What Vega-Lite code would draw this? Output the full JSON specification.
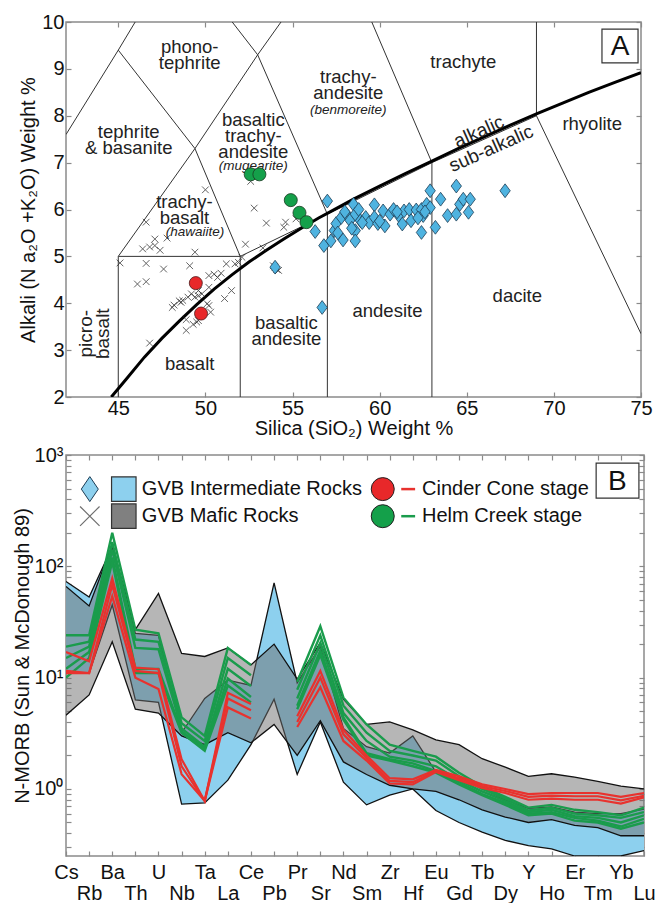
{
  "$schema": "https://vega.github.io/schema/vega-lite/v6.json",
  "background": "white",
  "padding": {"left": 12, "top": 11, "right": 5, "bottom": 0},
  "spacing": 5,
  "config": {
    "font": "Liberation Sans",
    "view": {"stroke": "#8a8a8a", "strokeWidth": 1.5},
    "axis": {"domain": false, "grid": false, "tickColor": "#8a8a8a", "tickSize": -5, "tickWidth": 1.2, "labelFontSize": 20, "labelColor": "#111", "titleFontSize": 20, "titleFontWeight": "normal", "titleColor": "#111", "labelFont": "Liberation Sans", "titleFont": "Liberation Sans", "labelFlush": false, "labelOverlap": false},
    "text": {"font": "Liberation Sans"}
  },
  "datasets": {
    "tas": [
      {"seg": "s1", "ord": 1, "x": 45, "y": 2}, {"seg": "s1", "ord": 2, "x": 45, "y": 5},
      {"seg": "s2", "ord": 1, "x": 45, "y": 5}, {"seg": "s2", "ord": 2, "x": 52, "y": 5},
      {"seg": "s3", "ord": 1, "x": 52, "y": 2}, {"seg": "s3", "ord": 2, "x": 52, "y": 5},
      {"seg": "s4", "ord": 1, "x": 52, "y": 5}, {"seg": "s4", "ord": 2, "x": 57, "y": 5.9}, {"seg": "s4", "ord": 3, "x": 63, "y": 7}, {"seg": "s4", "ord": 4, "x": 69, "y": 8},
      {"seg": "s5", "ord": 1, "x": 57, "y": 2}, {"seg": "s5", "ord": 2, "x": 57, "y": 5.9},
      {"seg": "s6", "ord": 1, "x": 63, "y": 2}, {"seg": "s6", "ord": 2, "x": 63, "y": 7},
      {"seg": "s7", "ord": 1, "x": 69, "y": 8}, {"seg": "s7", "ord": 2, "x": 69, "y": 10},
      {"seg": "s8", "ord": 1, "x": 69, "y": 8}, {"seg": "s8", "ord": 2, "x": 75, "y": 3.35},
      {"seg": "s9", "ord": 1, "x": 45, "y": 5}, {"seg": "s9", "ord": 2, "x": 49.4, "y": 7.3}, {"seg": "s9", "ord": 3, "x": 52, "y": 5},
      {"seg": "s10", "ord": 1, "x": 42, "y": 7.6}, {"seg": "s10", "ord": 2, "x": 45, "y": 9.4}, {"seg": "s10", "ord": 3, "x": 45.97, "y": 10},
      {"seg": "s11", "ord": 1, "x": 45, "y": 9.4}, {"seg": "s11", "ord": 2, "x": 49.4, "y": 7.3},
      {"seg": "s12", "ord": 1, "x": 49.4, "y": 7.3}, {"seg": "s12", "ord": 2, "x": 53, "y": 9.3}, {"seg": "s12", "ord": 3, "x": 54.34, "y": 10},
      {"seg": "s13", "ord": 1, "x": 51.54, "y": 10}, {"seg": "s13", "ord": 2, "x": 53, "y": 9.3}, {"seg": "s13", "ord": 3, "x": 57, "y": 5.9},
      {"seg": "s14", "ord": 1, "x": 59.55, "y": 10}, {"seg": "s14", "ord": 2, "x": 63, "y": 7}
    ],
    "curve": [
      {"x": 44.6, "y": 2}, {"x": 45.5, "y": 2.4}, {"x": 46.5, "y": 2.85}, {"x": 47.5, "y": 3.25}, {"x": 48.5, "y": 3.62}, {"x": 49.5, "y": 3.97}, {"x": 50.5, "y": 4.3}, {"x": 51.5, "y": 4.6}, {"x": 52.5, "y": 4.88}, {"x": 53.5, "y": 5.13}, {"x": 54.5, "y": 5.37}, {"x": 55.5, "y": 5.6}, {"x": 56.5, "y": 5.82}, {"x": 57.5, "y": 6.02}, {"x": 58.5, "y": 6.22}, {"x": 60, "y": 6.5}, {"x": 61.5, "y": 6.77}, {"x": 63, "y": 7.03}, {"x": 64.5, "y": 7.3}, {"x": 66, "y": 7.55}, {"x": 67.5, "y": 7.8}, {"x": 69, "y": 8.04}, {"x": 70.5, "y": 8.27}, {"x": 72, "y": 8.5}, {"x": 73.5, "y": 8.71}, {"x": 75, "y": 8.92}
    ],
    "labels": [
      {"x": 49.1, "y": 9.47, "t": "phono-\ntephrite"},
      {"x": 45.6, "y": 7.66, "t": "tephrite\n& basanite"},
      {"x": 58.2, "y": 8.82, "t": "trachy-\nandesite"},
      {"x": 64.8, "y": 9.15, "t": "trachyte"},
      {"x": 52.75, "y": 7.92, "t": "basaltic\ntrachy-\nandesite"},
      {"x": 48.8, "y": 6.17, "t": "trachy-\nbasalt"},
      {"x": 72.2, "y": 7.83, "t": "rhyolite"},
      {"x": 67.9, "y": 4.16, "t": "dacite"},
      {"x": 60.45, "y": 3.84, "t": "andesite"},
      {"x": 54.65, "y": 3.58, "t": "basaltic\nandesite"},
      {"x": 49.1, "y": 2.71, "t": "basalt"}
    ],
    "italic": [
      {"x": 58.2, "y": 8.12, "t": "(benmoreite)"},
      {"x": 52.75, "y": 6.93, "t": "(mugearite)"},
      {"x": 49.4, "y": 5.53, "t": "(hawaiite)"}
    ],
    "mafic_pts": [
      {"x": 45.1, "y": 4.86}, {"x": 46.6, "y": 5.73}, {"x": 46.4, "y": 5.16}, {"x": 46.8, "y": 5.2}, {"x": 47.1, "y": 5.37}, {"x": 47.1, "y": 5.23}, {"x": 47.4, "y": 5.13}, {"x": 47.8, "y": 5.39}, {"x": 46.6, "y": 4.85}, {"x": 47.6, "y": 4.73}, {"x": 46.1, "y": 4.41}, {"x": 46.6, "y": 4.46}, {"x": 46.8, "y": 3.15}, {"x": 50.0, "y": 6.42}, {"x": 49.4, "y": 5.09}, {"x": 49.1, "y": 4.8}, {"x": 48.2, "y": 3.96}, {"x": 48.1, "y": 3.91}, {"x": 48.7, "y": 4.06}, {"x": 48.6, "y": 4.02}, {"x": 49.0, "y": 4.13}, {"x": 49.2, "y": 4.2}, {"x": 49.6, "y": 4.27}, {"x": 49.8, "y": 4.2}, {"x": 49.4, "y": 4.13}, {"x": 49.6, "y": 4.16}, {"x": 50.2, "y": 4.34}, {"x": 50.5, "y": 4.62}, {"x": 50.9, "y": 4.64}, {"x": 50.7, "y": 4.55}, {"x": 50.2, "y": 4.59}, {"x": 51.2, "y": 4.84}, {"x": 51.5, "y": 4.27}, {"x": 51.1, "y": 4.1}, {"x": 50.1, "y": 3.99}, {"x": 50.3, "y": 3.81}, {"x": 50.2, "y": 3.95}, {"x": 48.9, "y": 3.65}, {"x": 48.9, "y": 3.42}, {"x": 49.5, "y": 3.6}, {"x": 49.6, "y": 3.63}, {"x": 51.7, "y": 4.84}, {"x": 51.9, "y": 4.87}, {"x": 52.1, "y": 4.98}, {"x": 52.3, "y": 5.26}, {"x": 52.8, "y": 6.03}, {"x": 52.6, "y": 6.6}, {"x": 53.5, "y": 5.71}, {"x": 54.6, "y": 5.73}, {"x": 54.5, "y": 5.62}, {"x": 55.2, "y": 5.8}, {"x": 53.3, "y": 5.18}, {"x": 54.0, "y": 4.77}, {"x": 54.1, "y": 4.72}, {"x": 53.9, "y": 4.8}, {"x": 54.2, "y": 4.7}, {"x": 49.3, "y": 3.55}, {"x": 48.5, "y": 4.05}
    ],
    "inter_pts": [
      {"x": 56.3, "y": 5.53}, {"x": 57.0, "y": 6.18}, {"x": 56.8, "y": 5.23}, {"x": 57.2, "y": 5.33}, {"x": 57.4, "y": 5.55}, {"x": 57.5, "y": 5.7}, {"x": 57.8, "y": 5.83}, {"x": 57.9, "y": 5.35}, {"x": 58.1, "y": 5.9}, {"x": 58.3, "y": 5.77}, {"x": 58.5, "y": 6.11}, {"x": 58.6, "y": 5.9}, {"x": 58.6, "y": 5.55}, {"x": 58.6, "y": 5.33}, {"x": 58.8, "y": 6.0}, {"x": 58.9, "y": 5.76}, {"x": 59.2, "y": 5.83}, {"x": 59.4, "y": 5.72}, {"x": 59.7, "y": 6.1}, {"x": 59.7, "y": 5.83}, {"x": 59.9, "y": 5.7}, {"x": 60.2, "y": 5.97}, {"x": 60.3, "y": 5.65}, {"x": 60.6, "y": 5.9}, {"x": 60.8, "y": 6.0}, {"x": 61.1, "y": 5.87}, {"x": 61.3, "y": 5.69}, {"x": 61.4, "y": 5.97}, {"x": 61.7, "y": 6.0}, {"x": 61.8, "y": 5.76}, {"x": 62.1, "y": 5.99}, {"x": 62.4, "y": 6.0}, {"x": 62.4, "y": 5.51}, {"x": 62.5, "y": 5.87}, {"x": 62.7, "y": 6.11}, {"x": 62.9, "y": 6.4}, {"x": 62.9, "y": 6.04}, {"x": 63.2, "y": 5.62}, {"x": 63.5, "y": 6.22}, {"x": 63.9, "y": 5.87}, {"x": 64.4, "y": 5.9}, {"x": 64.4, "y": 6.5}, {"x": 64.6, "y": 6.11}, {"x": 64.8, "y": 6.22}, {"x": 65.1, "y": 5.94}, {"x": 65.2, "y": 6.22}, {"x": 67.2, "y": 6.4}, {"x": 56.7, "y": 3.91}, {"x": 54.0, "y": 4.77}, {"x": 57.6, "y": 5.5}, {"x": 58.0, "y": 5.95}, {"x": 60.0, "y": 5.75}, {"x": 61.0, "y": 5.95}, {"x": 58.4, "y": 5.6}, {"x": 59.0, "y": 5.72}, {"x": 62.2, "y": 5.82}, {"x": 62.6, "y": 5.95}
    ],
    "green_pts": [{"x": 52.6, "y": 6.75}, {"x": 53.1, "y": 6.75}, {"x": 54.9, "y": 6.2}, {"x": 55.4, "y": 5.93}, {"x": 55.8, "y": 5.73}],
    "red_pts": [{"x": 49.45, "y": 4.43}, {"x": 49.75, "y": 3.78}],
    "inter": [
      {"idx": 0, "lo": 11, "hi": 73}, {"idx": 1, "lo": 11, "hi": 53}, {"idx": 2, "lo": 45, "hi": 150}, {"idx": 3, "lo": 6.3, "hi": 25}, {"idx": 4, "lo": 6.0, "hi": 24}, {"idx": 5, "lo": 0.73, "hi": 3.2}, {"idx": 6, "lo": 0.75, "hi": 6.5}, {"idx": 7, "lo": 1.2, "hi": 9.5}, {"idx": 8, "lo": 2.5, "hi": 8.5}, {"idx": 9, "lo": 6.4, "hi": 71}, {"idx": 10, "lo": 1.35, "hi": 9.0}, {"idx": 11, "lo": 4.0, "hi": 19}, {"idx": 12, "lo": 1.15, "hi": 3.5}, {"idx": 13, "lo": 0.72, "hi": 2.4}, {"idx": 14, "lo": 0.88, "hi": 2.1}, {"idx": 15, "lo": 1.0, "hi": 3.0}, {"idx": 16, "lo": 0.64, "hi": 1.42}, {"idx": 17, "lo": 0.5, "hi": 1.2}, {"idx": 18, "lo": 0.41, "hi": 0.95}, {"idx": 19, "lo": 0.345, "hi": 0.8}, {"idx": 20, "lo": 0.31, "hi": 0.67}, {"idx": 21, "lo": 0.29, "hi": 0.69}, {"idx": 22, "lo": 0.25, "hi": 0.62}, {"idx": 23, "lo": 0.25, "hi": 0.6}, {"idx": 24, "lo": 0.25, "hi": 0.6}, {"idx": 25, "lo": 0.28, "hi": 0.66}
    ],
    "mafic": [
      {"idx": 0, "lo": 4.6, "hi": 66}, {"idx": 1, "lo": 7.0, "hi": 44}, {"idx": 2, "lo": 21, "hi": 155}, {"idx": 3, "lo": 5.2, "hi": 27}, {"idx": 4, "lo": 4.8, "hi": 57}, {"idx": 5, "lo": 3.0, "hi": 16.5}, {"idx": 6, "lo": 2.5, "hi": 15.5}, {"idx": 7, "lo": 3.2, "hi": 18.5}, {"idx": 8, "lo": 2.6, "hi": 13}, {"idx": 9, "lo": 3.8, "hi": 20}, {"idx": 10, "lo": 2.0, "hi": 9.7}, {"idx": 11, "lo": 4.1, "hi": 20.6}, {"idx": 12, "lo": 1.75, "hi": 6.4}, {"idx": 13, "lo": 1.35, "hi": 3.8}, {"idx": 14, "lo": 1.08, "hi": 4.0}, {"idx": 15, "lo": 1.0, "hi": 3.4}, {"idx": 16, "lo": 0.95, "hi": 2.76}, {"idx": 17, "lo": 0.8, "hi": 2.5}, {"idx": 18, "lo": 0.65, "hi": 1.87}, {"idx": 19, "lo": 0.56, "hi": 1.57}, {"idx": 20, "lo": 0.5, "hi": 1.3}, {"idx": 21, "lo": 0.53, "hi": 1.37}, {"idx": 22, "lo": 0.47, "hi": 1.28}, {"idx": 23, "lo": 0.45, "hi": 1.17}, {"idx": 24, "lo": 0.38, "hi": 1.06}, {"idx": 25, "lo": 0.38, "hi": 1.0}
    ],
    "red": [
      {"s": "R1a", "idx": 0, "v": 17}, {"s": "R1a", "idx": 1, "v": 14}, {"s": "R1a", "idx": 2, "v": 78}, {"s": "R1a", "idx": 3, "v": 12.3}, {"s": "R1a", "idx": 4, "v": 11.9}, {"s": "R1a", "idx": 5, "v": 1.85}, {"s": "R1a", "idx": 6, "v": 0.78}, {"s": "R1a", "idx": 7, "v": 7.3}, {"s": "R1a", "idx": 8, "v": 5.8},
      {"s": "R1b", "idx": 10, "v": 4.5}, {"s": "R1b", "idx": 11, "v": 11.5}, {"s": "R1b", "idx": 12, "v": 3.4}, {"s": "R1b", "idx": 13, "v": 2.0}, {"s": "R1b", "idx": 14, "v": 1.25}, {"s": "R1b", "idx": 15, "v": 1.22}, {"s": "R1b", "idx": 16, "v": 1.48}, {"s": "R1b", "idx": 17, "v": 1.3}, {"s": "R1b", "idx": 18, "v": 1.1}, {"s": "R1b", "idx": 19, "v": 1.0}, {"s": "R1b", "idx": 20, "v": 0.9}, {"s": "R1b", "idx": 21, "v": 0.92}, {"s": "R1b", "idx": 22, "v": 0.92}, {"s": "R1b", "idx": 23, "v": 0.92}, {"s": "R1b", "idx": 24, "v": 0.85}, {"s": "R1b", "idx": 25, "v": 0.92},
      {"s": "R2a", "idx": 0, "v": 11.5}, {"s": "R2a", "idx": 1, "v": 11}, {"s": "R2a", "idx": 2, "v": 68}, {"s": "R2a", "idx": 3, "v": 11.5}, {"s": "R2a", "idx": 4, "v": 11}, {"s": "R2a", "idx": 5, "v": 1.6}, {"s": "R2a", "idx": 6, "v": 0.78}, {"s": "R2a", "idx": 7, "v": 6.5}, {"s": "R2a", "idx": 8, "v": 5.1},
      {"s": "R2b", "idx": 10, "v": 4.0}, {"s": "R2b", "idx": 11, "v": 10}, {"s": "R2b", "idx": 12, "v": 3.1}, {"s": "R2b", "idx": 13, "v": 1.9}, {"s": "R2b", "idx": 14, "v": 1.18}, {"s": "R2b", "idx": 15, "v": 1.15}, {"s": "R2b", "idx": 16, "v": 1.45}, {"s": "R2b", "idx": 17, "v": 1.25}, {"s": "R2b", "idx": 18, "v": 1.06}, {"s": "R2b", "idx": 19, "v": 0.96}, {"s": "R2b", "idx": 20, "v": 0.85}, {"s": "R2b", "idx": 21, "v": 0.87}, {"s": "R2b", "idx": 22, "v": 0.86}, {"s": "R2b", "idx": 23, "v": 0.86}, {"s": "R2b", "idx": 24, "v": 0.79}, {"s": "R2b", "idx": 25, "v": 0.87},
      {"s": "R3a", "idx": 0, "v": 11}, {"s": "R3a", "idx": 1, "v": 11}, {"s": "R3a", "idx": 2, "v": 54}, {"s": "R3a", "idx": 3, "v": 10}, {"s": "R3a", "idx": 4, "v": 7.9}, {"s": "R3a", "idx": 5, "v": 1.36}, {"s": "R3a", "idx": 6, "v": 0.78}, {"s": "R3a", "idx": 7, "v": 5.4}, {"s": "R3a", "idx": 8, "v": 4.3},
      {"s": "R3b", "idx": 10, "v": 3.6}, {"s": "R3b", "idx": 11, "v": 8.2}, {"s": "R3b", "idx": 12, "v": 2.7}, {"s": "R3b", "idx": 13, "v": 1.8}, {"s": "R3b", "idx": 14, "v": 1.12}, {"s": "R3b", "idx": 15, "v": 1.1}, {"s": "R3b", "idx": 16, "v": 1.42}, {"s": "R3b", "idx": 17, "v": 1.2}, {"s": "R3b", "idx": 18, "v": 1.02}, {"s": "R3b", "idx": 19, "v": 0.92}, {"s": "R3b", "idx": 20, "v": 0.8}, {"s": "R3b", "idx": 21, "v": 0.82}, {"s": "R3b", "idx": 22, "v": 0.8}, {"s": "R3b", "idx": 23, "v": 0.8}, {"s": "R3b", "idx": 24, "v": 0.74}, {"s": "R3b", "idx": 25, "v": 0.84}
    ],
    "green": [
      {"s": "G1a", "idx": 0, "v": 24}, {"s": "G1a", "idx": 1, "v": 24}, {"s": "G1a", "idx": 2, "v": 200}, {"s": "G1a", "idx": 3, "v": 27}, {"s": "G1a", "idx": 4, "v": 25}, {"s": "G1a", "idx": 5, "v": 4.4}, {"s": "G1a", "idx": 6, "v": 3.0}, {"s": "G1a", "idx": 7, "v": 18.5}, {"s": "G1a", "idx": 8, "v": 13},
      {"s": "G1b", "idx": 10, "v": 9.2}, {"s": "G1b", "idx": 11, "v": 29}, {"s": "G1b", "idx": 12, "v": 6.6}, {"s": "G1b", "idx": 13, "v": 3.8}, {"s": "G1b", "idx": 14, "v": 2.5}, {"s": "G1b", "idx": 15, "v": 2.2}, {"s": "G1b", "idx": 16, "v": 1.95}, {"s": "G1b", "idx": 17, "v": 1.4}, {"s": "G1b", "idx": 18, "v": 1.05}, {"s": "G1b", "idx": 19, "v": 0.85}, {"s": "G1b", "idx": 20, "v": 0.68}, {"s": "G1b", "idx": 21, "v": 0.72}, {"s": "G1b", "idx": 22, "v": 0.65}, {"s": "G1b", "idx": 23, "v": 0.62}, {"s": "G1b", "idx": 24, "v": 0.58}, {"s": "G1b", "idx": 25, "v": 0.68},
      {"s": "G2a", "idx": 0, "v": 19}, {"s": "G2a", "idx": 1, "v": 21}, {"s": "G2a", "idx": 2, "v": 165}, {"s": "G2a", "idx": 3, "v": 22}, {"s": "G2a", "idx": 4, "v": 21}, {"s": "G2a", "idx": 5, "v": 3.9}, {"s": "G2a", "idx": 6, "v": 2.7}, {"s": "G2a", "idx": 7, "v": 15}, {"s": "G2a", "idx": 8, "v": 10.5},
      {"s": "G2b", "idx": 10, "v": 7.8}, {"s": "G2b", "idx": 11, "v": 24}, {"s": "G2b", "idx": 12, "v": 5.6}, {"s": "G2b", "idx": 13, "v": 3.2}, {"s": "G2b", "idx": 14, "v": 2.2}, {"s": "G2b", "idx": 15, "v": 2.0}, {"s": "G2b", "idx": 16, "v": 1.8}, {"s": "G2b", "idx": 17, "v": 1.3}, {"s": "G2b", "idx": 18, "v": 1.0}, {"s": "G2b", "idx": 19, "v": 0.82}, {"s": "G2b", "idx": 20, "v": 0.64}, {"s": "G2b", "idx": 21, "v": 0.68}, {"s": "G2b", "idx": 22, "v": 0.6}, {"s": "G2b", "idx": 23, "v": 0.58}, {"s": "G2b", "idx": 24, "v": 0.55}, {"s": "G2b", "idx": 25, "v": 0.62},
      {"s": "G3a", "idx": 0, "v": 15}, {"s": "G3a", "idx": 1, "v": 19}, {"s": "G3a", "idx": 2, "v": 140}, {"s": "G3a", "idx": 3, "v": 18.5}, {"s": "G3a", "idx": 4, "v": 18}, {"s": "G3a", "idx": 5, "v": 3.5}, {"s": "G3a", "idx": 6, "v": 2.4}, {"s": "G3a", "idx": 7, "v": 12}, {"s": "G3a", "idx": 8, "v": 8.4},
      {"s": "G3b", "idx": 10, "v": 6.5}, {"s": "G3b", "idx": 11, "v": 20.5}, {"s": "G3b", "idx": 12, "v": 4.8}, {"s": "G3b", "idx": 13, "v": 2.7}, {"s": "G3b", "idx": 14, "v": 1.95}, {"s": "G3b", "idx": 15, "v": 1.8}, {"s": "G3b", "idx": 16, "v": 1.6}, {"s": "G3b", "idx": 17, "v": 1.2}, {"s": "G3b", "idx": 18, "v": 0.95}, {"s": "G3b", "idx": 19, "v": 0.78}, {"s": "G3b", "idx": 20, "v": 0.62}, {"s": "G3b", "idx": 21, "v": 0.65}, {"s": "G3b", "idx": 22, "v": 0.57}, {"s": "G3b", "idx": 23, "v": 0.55}, {"s": "G3b", "idx": 24, "v": 0.5}, {"s": "G3b", "idx": 25, "v": 0.58},
      {"s": "G4a", "idx": 0, "v": 12}, {"s": "G4a", "idx": 1, "v": 17}, {"s": "G4a", "idx": 2, "v": 120}, {"s": "G4a", "idx": 3, "v": 12}, {"s": "G4a", "idx": 4, "v": 12}, {"s": "G4a", "idx": 5, "v": 3.3}, {"s": "G4a", "idx": 6, "v": 2.3}, {"s": "G4a", "idx": 7, "v": 9.8}, {"s": "G4a", "idx": 8, "v": 6.7},
      {"s": "G4b", "idx": 10, "v": 5.6}, {"s": "G4b", "idx": 11, "v": 17.5}, {"s": "G4b", "idx": 12, "v": 4.4}, {"s": "G4b", "idx": 13, "v": 2.1}, {"s": "G4b", "idx": 14, "v": 1.85}, {"s": "G4b", "idx": 15, "v": 1.7}, {"s": "G4b", "idx": 16, "v": 1.45}, {"s": "G4b", "idx": 17, "v": 1.15}, {"s": "G4b", "idx": 18, "v": 0.9}, {"s": "G4b", "idx": 19, "v": 0.75}, {"s": "G4b", "idx": 20, "v": 0.6}, {"s": "G4b", "idx": 21, "v": 0.62}, {"s": "G4b", "idx": 22, "v": 0.55}, {"s": "G4b", "idx": 23, "v": 0.52}, {"s": "G4b", "idx": 24, "v": 0.46}, {"s": "G4b", "idx": 25, "v": 0.54},
      {"s": "G5a", "idx": 0, "v": 10}, {"s": "G5a", "idx": 1, "v": 15}, {"s": "G5a", "idx": 2, "v": 110}, {"s": "G5a", "idx": 3, "v": 11}, {"s": "G5a", "idx": 4, "v": 11}, {"s": "G5a", "idx": 5, "v": 3.2}, {"s": "G5a", "idx": 6, "v": 2.2}, {"s": "G5a", "idx": 7, "v": 8.5}, {"s": "G5a", "idx": 8, "v": 6.0},
      {"s": "G5b", "idx": 10, "v": 5.2}, {"s": "G5b", "idx": 11, "v": 16}, {"s": "G5b", "idx": 12, "v": 4.2}, {"s": "G5b", "idx": 13, "v": 2.0}, {"s": "G5b", "idx": 14, "v": 1.8}, {"s": "G5b", "idx": 15, "v": 1.6}, {"s": "G5b", "idx": 16, "v": 1.4}, {"s": "G5b", "idx": 17, "v": 1.1}, {"s": "G5b", "idx": 18, "v": 0.88}, {"s": "G5b", "idx": 19, "v": 0.72}, {"s": "G5b", "idx": 20, "v": 0.58}, {"s": "G5b", "idx": 21, "v": 0.6}, {"s": "G5b", "idx": 22, "v": 0.52}, {"s": "G5b", "idx": 23, "v": 0.5}, {"s": "G5b", "idx": 24, "v": 0.44}, {"s": "G5b", "idx": 25, "v": 0.5}
    ]
  },
  "vconcat": [
    {
      "width": 575,
      "height": 375,
      "layer": [
        {
          "data": {"name": "tas"},
          "mark": {"type": "line", "color": "#333", "strokeWidth": 1, "clip": true},
          "encoding": {
            "x": {"field": "x", "type": "quantitative", "scale": {"domain": [42, 75], "nice": false, "zero": false}, "axis": {"values": [45, 50, 55, 60, 65, 70, 75], "title": "Silica (SiO₂) Weight %", "labelPadding": 6, "titlePadding": 0}},
            "y": {"field": "y", "type": "quantitative", "scale": {"domain": [2, 10], "nice": false, "zero": false}, "axis": {"values": [2, 3, 4, 5, 6, 7, 8, 9, 10], "title": "Alkali (N a₂O +K₂O) Weight %", "labelPadding": 7, "titlePadding": 3}},
            "detail": {"field": "seg"},
            "order": {"field": "ord"}
          }
        },
        {
          "data": {"name": "curve"},
          "mark": {"type": "line", "color": "#000", "strokeWidth": 3, "clip": true},
          "encoding": {
            "x": {"field": "x", "type": "quantitative", "scale": {"domain": [42, 75], "nice": false, "zero": false}, "axis": null},
            "y": {"field": "y", "type": "quantitative", "scale": {"domain": [2, 10], "nice": false, "zero": false}, "axis": null}
          }
        },
        {
          "data": {"name": "labels"},
          "mark": {"type": "text", "fontSize": 18.5, "lineBreak": "\n", "lineHeight": 16, "color": "#222", "align": "center", "baseline": "middle"},
          "encoding": {
            "x": {"field": "x", "type": "quantitative", "scale": {"domain": [42, 75], "nice": false, "zero": false}, "axis": null},
            "y": {"field": "y", "type": "quantitative", "scale": {"domain": [2, 10], "nice": false, "zero": false}, "axis": null},
            "text": {"field": "t"}
          }
        },
        {
          "data": {"name": "italic"},
          "mark": {"type": "text", "fontSize": 13.5, "fontStyle": "italic", "color": "#222", "align": "center", "baseline": "middle"},
          "encoding": {
            "x": {"field": "x", "type": "quantitative", "scale": {"domain": [42, 75], "nice": false, "zero": false}, "axis": null},
            "y": {"field": "y", "type": "quantitative", "scale": {"domain": [2, 10], "nice": false, "zero": false}, "axis": null},
            "text": {"field": "t"}
          }
        },
        {
          "data": {"values": [{"x": 65.7, "y": 7.66, "t": "alkalic"}, {"x": 66.4, "y": 7.3, "t": "sub-alkalic"}]},
          "mark": {"type": "text", "fontSize": 19, "angle": -24, "color": "#222", "align": "center", "baseline": "middle"},
          "encoding": {
            "x": {"field": "x", "type": "quantitative", "scale": {"domain": [42, 75], "nice": false, "zero": false}, "axis": null},
            "y": {"field": "y", "type": "quantitative", "scale": {"domain": [2, 10], "nice": false, "zero": false}, "axis": null},
            "text": {"field": "t"}
          }
        },
        {
          "data": {"values": [{"x": 43.15, "y": 3.35, "t": "picro-\nbasalt"}]},
          "mark": {"type": "text", "fontSize": 19, "angle": -90, "lineBreak": "\n", "lineHeight": 17, "color": "#222", "align": "center", "baseline": "middle"},
          "encoding": {
            "x": {"field": "x", "type": "quantitative", "scale": {"domain": [42, 75], "nice": false, "zero": false}, "axis": null},
            "y": {"field": "y", "type": "quantitative", "scale": {"domain": [2, 10], "nice": false, "zero": false}, "axis": null},
            "text": {"field": "t"}
          }
        },
        {
          "data": {"name": "mafic_pts"},
          "mark": {"type": "point", "shape": "M-1,-1L1,1M-1,1L1,-1", "size": 45, "stroke": "#222", "strokeWidth": 1, "filled": false},
          "encoding": {
            "x": {"field": "x", "type": "quantitative", "scale": {"domain": [42, 75], "nice": false, "zero": false}, "axis": null},
            "y": {"field": "y", "type": "quantitative", "scale": {"domain": [2, 10], "nice": false, "zero": false}, "axis": null}
          }
        },
        {
          "data": {"name": "inter_pts"},
          "mark": {"type": "point", "shape": "M0,-1L0.75,0L0,1L-0.75,0Z", "size": 190, "fill": "#4fb3e0", "stroke": "#1d3d55", "strokeWidth": 0.8, "filled": true, "opacity": 1},
          "encoding": {
            "x": {"field": "x", "type": "quantitative", "scale": {"domain": [42, 75], "nice": false, "zero": false}, "axis": null},
            "y": {"field": "y", "type": "quantitative", "scale": {"domain": [2, 10], "nice": false, "zero": false}, "axis": null}
          }
        },
        {
          "data": {"name": "green_pts"},
          "mark": {"type": "circle", "size": 170, "fill": "#14a04a", "stroke": "#1b3a22", "strokeWidth": 0.8, "opacity": 1},
          "encoding": {
            "x": {"field": "x", "type": "quantitative", "scale": {"domain": [42, 75], "nice": false, "zero": false}, "axis": null},
            "y": {"field": "y", "type": "quantitative", "scale": {"domain": [2, 10], "nice": false, "zero": false}, "axis": null}
          }
        },
        {
          "data": {"name": "red_pts"},
          "mark": {"type": "circle", "size": 170, "fill": "#e8282a", "stroke": "#4a1a1a", "strokeWidth": 0.8, "opacity": 1},
          "encoding": {
            "x": {"field": "x", "type": "quantitative", "scale": {"domain": [42, 75], "nice": false, "zero": false}, "axis": null},
            "y": {"field": "y", "type": "quantitative", "scale": {"domain": [2, 10], "nice": false, "zero": false}, "axis": null}
          }
        },
        {
          "data": {"values": [{"x1": 72.76, "x2": 74.83, "y1": 9.13, "y2": 9.85}]},
          "mark": {"type": "rect", "fill": "white", "stroke": "#333", "strokeWidth": 1.2},
          "encoding": {
            "x": {"field": "x1", "type": "quantitative", "scale": {"domain": [42, 75], "nice": false, "zero": false}, "axis": {"orient": "top", "values": [45, 50, 55, 60, 65, 70, 75], "labels": false, "title": null}},
            "x2": {"field": "x2"},
            "y": {"field": "y1", "type": "quantitative", "scale": {"domain": [2, 10], "nice": false, "zero": false}, "axis": {"orient": "right", "values": [2, 3, 4, 5, 6, 7, 8, 9, 10], "labels": false, "title": null}},
            "y2": {"field": "y2"}
          }
        },
        {
          "data": {"values": [{"x": 73.8, "y": 9.49, "t": "A"}]},
          "mark": {"type": "text", "fontSize": 28, "color": "#111", "align": "center", "baseline": "middle", "dy": 1},
          "encoding": {
            "x": {"field": "x", "type": "quantitative", "scale": {"domain": [42, 75], "nice": false, "zero": false}, "axis": null},
            "y": {"field": "y", "type": "quantitative", "scale": {"domain": [2, 10], "nice": false, "zero": false}, "axis": null},
            "text": {"field": "t"}
          }
        }
      ],
      "resolve": {"axis": {"x": "independent", "y": "independent"}}
    },
    {
      "width": 578,
      "height": 401,
      "layer": [
        {
          "data": {"name": "inter"},
          "mark": {"type": "area", "color": "#8dd0ee", "opacity": 1, "clip": true},
          "encoding": {
            "x": {"field": "idx", "type": "quantitative", "scale": {"domain": [0, 25], "nice": false, "zero": false}, "axis": {"values": [0,1,2,3,4,5,6,7,8,9,10,11,12,13,14,15,16,17,18,19,20,21,22,23,24,25], "title": null, "labelPadding": 11, "labelLineHeight": 21, "labelBaseline": "top", "labelExpr": "datum.value % 2 == 1 ? ['', split('Cs Rb Ba Th U Nb Ta La Ce Pb Pr Sr Nd Sm Zr Hf Eu Gd Tb Dy Y Ho Er Tm Yb Lu', ' ')[datum.value]] : split('Cs Rb Ba Th U Nb Ta La Ce Pb Pr Sr Nd Sm Zr Hf Eu Gd Tb Dy Y Ho Er Tm Yb Lu', ' ')[datum.value]"}},
            "y": {"field": "lo", "type": "quantitative", "scale": {"type": "log", "domain": [0.25, 1000], "nice": false}, "axis": {"values": [0.3,0.4,0.5,0.6,0.7,0.8,0.9,1,2,3,4,5,6,7,8,9,10,20,30,40,50,60,70,80,90,100,200,300,400,500,600,700,800,900,1000], "title": "N-MORB (Sun & McDonough 89)", "labelPadding": 8, "titlePadding": 1, "labelExpr": "datum.value == 1 ? '10⁰' : datum.value == 10 ? '10¹' : datum.value == 100 ? '10²' : datum.value == 1000 ? '10³' : ''"}},
            "y2": {"field": "hi"}
          }
        },
        {
          "data": {"name": "inter"},
          "mark": {"type": "line", "color": "#111", "strokeWidth": 1.3, "clip": true},
          "encoding": {
            "x": {"field": "idx", "type": "quantitative", "scale": {"domain": [0, 25], "nice": false, "zero": false}, "axis": null},
            "y": {"field": "lo", "type": "quantitative", "scale": {"type": "log", "domain": [0.25, 1000], "nice": false}, "axis": null}
          }
        },
        {
          "data": {"name": "inter"},
          "mark": {"type": "line", "color": "#111", "strokeWidth": 1.3, "clip": true},
          "encoding": {
            "x": {"field": "idx", "type": "quantitative", "scale": {"domain": [0, 25], "nice": false, "zero": false}, "axis": null},
            "y": {"field": "hi", "type": "quantitative", "scale": {"type": "log", "domain": [0.25, 1000], "nice": false}, "axis": null}
          }
        },
        {
          "data": {"name": "mafic"},
          "mark": {"type": "area", "color": "#6e6e6e", "opacity": 0.5, "clip": true},
          "encoding": {
            "x": {"field": "idx", "type": "quantitative", "scale": {"domain": [0, 25], "nice": false, "zero": false}, "axis": null},
            "y": {"field": "lo", "type": "quantitative", "scale": {"type": "log", "domain": [0.25, 1000], "nice": false}, "axis": null},
            "y2": {"field": "hi"}
          }
        },
        {
          "data": {"name": "mafic"},
          "mark": {"type": "line", "color": "#111", "strokeWidth": 1.3, "clip": true},
          "encoding": {
            "x": {"field": "idx", "type": "quantitative", "scale": {"domain": [0, 25], "nice": false, "zero": false}, "axis": null},
            "y": {"field": "lo", "type": "quantitative", "scale": {"type": "log", "domain": [0.25, 1000], "nice": false}, "axis": null}
          }
        },
        {
          "data": {"name": "mafic"},
          "mark": {"type": "line", "color": "#111", "strokeWidth": 1.3, "clip": true},
          "encoding": {
            "x": {"field": "idx", "type": "quantitative", "scale": {"domain": [0, 25], "nice": false, "zero": false}, "axis": null},
            "y": {"field": "hi", "type": "quantitative", "scale": {"type": "log", "domain": [0.25, 1000], "nice": false}, "axis": null}
          }
        },
        {
          "data": {"name": "green"},
          "mark": {"type": "line", "color": "#1a9c4c", "strokeWidth": 2.4, "clip": true},
          "encoding": {
            "x": {"field": "idx", "type": "quantitative", "scale": {"domain": [0, 25], "nice": false, "zero": false}, "axis": null},
            "y": {"field": "v", "type": "quantitative", "scale": {"type": "log", "domain": [0.25, 1000], "nice": false}, "axis": null},
            "detail": {"field": "s"}
          }
        },
        {
          "data": {"name": "red"},
          "mark": {"type": "line", "color": "#e8322e", "strokeWidth": 2.2, "clip": true},
          "encoding": {
            "x": {"field": "idx", "type": "quantitative", "scale": {"domain": [0, 25], "nice": false, "zero": false}, "axis": null},
            "y": {"field": "v", "type": "quantitative", "scale": {"type": "log", "domain": [0.25, 1000], "nice": false}, "axis": null},
            "detail": {"field": "s"}
          }
        },
        {
          "data": {"values": [{"x": 1.03, "y": 494}]},
          "mark": {"type": "point", "shape": "M0,-1L0.68,0L0,1L-0.68,0Z", "size": 625, "fill": "#8dd0ee", "stroke": "#1d3d55", "strokeWidth": 1, "filled": true, "opacity": 1},
          "encoding": {
            "x": {"field": "x", "type": "quantitative", "scale": {"domain": [0, 25], "nice": false, "zero": false}, "axis": null},
            "y": {"field": "y", "type": "quantitative", "scale": {"type": "log", "domain": [0.25, 1000], "nice": false}, "axis": null}
          }
        },
        {
          "data": {"values": [{"x": 1.03, "y": 282}]},
          "mark": {"type": "point", "shape": "M-1,-1L1,1M-1,1L1,-1", "size": 380, "stroke": "#333", "strokeWidth": 1.2, "filled": false},
          "encoding": {
            "x": {"field": "x", "type": "quantitative", "scale": {"domain": [0, 25], "nice": false, "zero": false}, "axis": null},
            "y": {"field": "y", "type": "quantitative", "scale": {"type": "log", "domain": [0.25, 1000], "nice": false}, "axis": null}
          }
        },
        {
          "data": {"values": [{"x": 2.5, "y": 494}]},
          "mark": {"type": "square", "size": 600, "fill": "#8dd0ee", "stroke": "#333", "strokeWidth": 1.2, "opacity": 1},
          "encoding": {
            "x": {"field": "x", "type": "quantitative", "scale": {"domain": [0, 25], "nice": false, "zero": false}, "axis": null},
            "y": {"field": "y", "type": "quantitative", "scale": {"type": "log", "domain": [0.25, 1000], "nice": false}, "axis": null}
          }
        },
        {
          "data": {"values": [{"x": 2.5, "y": 282}]},
          "mark": {"type": "square", "size": 600, "fill": "#808080", "stroke": "#333", "strokeWidth": 1.2, "opacity": 1},
          "encoding": {
            "x": {"field": "x", "type": "quantitative", "scale": {"domain": [0, 25], "nice": false, "zero": false}, "axis": null},
            "y": {"field": "y", "type": "quantitative", "scale": {"type": "log", "domain": [0.25, 1000], "nice": false}, "axis": null}
          }
        },
        {
          "data": {"values": [{"x": 3.28, "y": 494, "t": "GVB Intermediate Rocks"}, {"x": 3.28, "y": 282, "t": "GVB Mafic Rocks"}, {"x": 15.4, "y": 494, "t": "Cinder Cone stage"}, {"x": 15.4, "y": 282, "t": "Helm Creek stage"}]},
          "mark": {"type": "text", "fontSize": 20, "color": "#111", "align": "left", "baseline": "middle"},
          "encoding": {
            "x": {"field": "x", "type": "quantitative", "scale": {"domain": [0, 25], "nice": false, "zero": false}, "axis": null},
            "y": {"field": "y", "type": "quantitative", "scale": {"type": "log", "domain": [0.25, 1000], "nice": false}, "axis": null},
            "text": {"field": "t"}
          }
        },
        {
          "data": {"values": [{"x": 13.7, "y": 494}]},
          "mark": {"type": "circle", "size": 529, "fill": "#e8282a", "stroke": "#222", "strokeWidth": 1, "opacity": 1},
          "encoding": {
            "x": {"field": "x", "type": "quantitative", "scale": {"domain": [0, 25], "nice": false, "zero": false}, "axis": null},
            "y": {"field": "y", "type": "quantitative", "scale": {"type": "log", "domain": [0.25, 1000], "nice": false}, "axis": null}
          }
        },
        {
          "data": {"values": [{"x": 13.7, "y": 282}]},
          "mark": {"type": "circle", "size": 529, "fill": "#14a04a", "stroke": "#222", "strokeWidth": 1, "opacity": 1},
          "encoding": {
            "x": {"field": "x", "type": "quantitative", "scale": {"domain": [0, 25], "nice": false, "zero": false}, "axis": null},
            "y": {"field": "y", "type": "quantitative", "scale": {"type": "log", "domain": [0.25, 1000], "nice": false}, "axis": null}
          }
        },
        {
          "data": {"values": [{"x1": 14.5, "x2": 15.1, "y": 494}]},
          "mark": {"type": "rule", "strokeWidth": 2.5, "color": "#e8322e"},
          "encoding": {
            "x": {"field": "x1", "type": "quantitative", "scale": {"domain": [0, 25], "nice": false, "zero": false}, "axis": null},
            "x2": {"field": "x2"},
            "y": {"field": "y", "type": "quantitative", "scale": {"type": "log", "domain": [0.25, 1000], "nice": false}, "axis": null}
          }
        },
        {
          "data": {"values": [{"x1": 14.5, "x2": 15.1, "y": 282}]},
          "mark": {"type": "rule", "strokeWidth": 2.5, "color": "#1a9c4c"},
          "encoding": {
            "x": {"field": "x1", "type": "quantitative", "scale": {"domain": [0, 25], "nice": false, "zero": false}, "axis": null},
            "x2": {"field": "x2"},
            "y": {"field": "y", "type": "quantitative", "scale": {"type": "log", "domain": [0.25, 1000], "nice": false}, "axis": null}
          }
        },
        {
          "data": {"values": [{"x1": 22.93, "x2": 24.78, "y1": 410, "y2": 847}]},
          "mark": {"type": "rect", "fill": "white", "stroke": "#333", "strokeWidth": 1.2},
          "encoding": {
            "x": {"field": "x1", "type": "quantitative", "scale": {"domain": [0, 25], "nice": false, "zero": false}, "axis": {"orient": "top", "values": [0,1,2,3,4,5,6,7,8,9,10,11,12,13,14,15,16,17,18,19,20,21,22,23,24,25], "labels": false, "title": null}},
            "x2": {"field": "x2"},
            "y": {"field": "y1", "type": "quantitative", "scale": {"type": "log", "domain": [0.25, 1000], "nice": false}, "axis": {"orient": "right", "values": [0.3,0.4,0.5,0.6,0.7,0.8,0.9,1,2,3,4,5,6,7,8,9,10,20,30,40,50,60,70,80,90,100,200,300,400,500,600,700,800,900,1000], "labels": false, "title": null}},
            "y2": {"field": "y2"}
          }
        },
        {
          "data": {"values": [{"x": 23.85, "y": 590, "t": "B"}]},
          "mark": {"type": "text", "fontSize": 28, "color": "#111", "align": "center", "baseline": "middle", "dy": 1},
          "encoding": {
            "x": {"field": "x", "type": "quantitative", "scale": {"domain": [0, 25], "nice": false, "zero": false}, "axis": null},
            "y": {"field": "y", "type": "quantitative", "scale": {"type": "log", "domain": [0.25, 1000], "nice": false}, "axis": null},
            "text": {"field": "t"}
          }
        }
      ],
      "resolve": {"axis": {"x": "independent", "y": "independent"}}
    }
  ]
}
